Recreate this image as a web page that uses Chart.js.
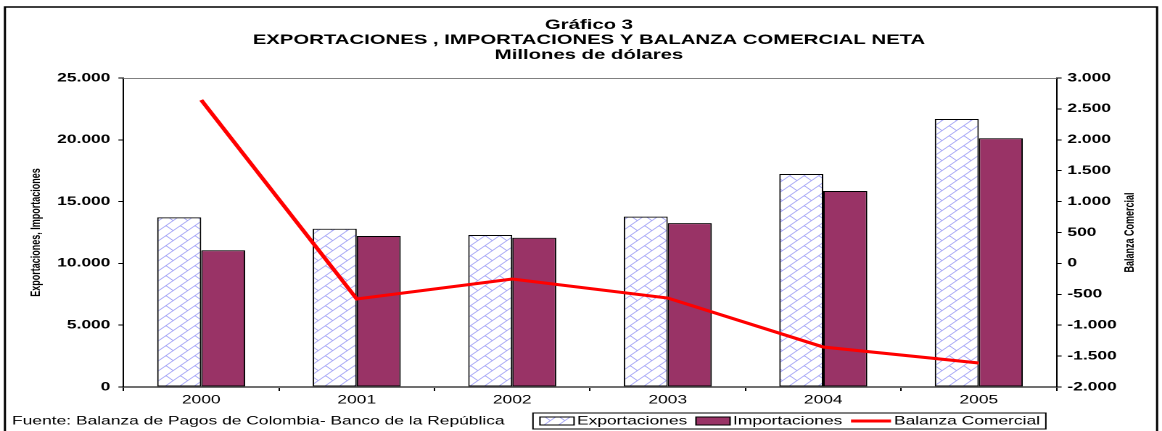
<!DOCTYPE html>
<html><head><meta charset="utf-8">
<script src="https://cdn.jsdelivr.net/npm/chart.js@4.4.1/dist/chart.umd.min.js"></script>
<style>
html,body{margin:0;padding:0;background:#fff;overflow:hidden;}
#wrap{width:801px;height:431px;transform:scaleX(1.450687);transform-origin:0 0;}
</style></head><body>
<div id="wrap"><canvas id="c" width="801" height="431"></canvas></div>
<script>
const categories = ['2000','2001','2002','2003','2004','2005'];
const exportaciones = [13720, 12800, 12300, 13780, 17230, 21680];
const importaciones = [11060, 12220, 12080, 13260, 15860, 20130];
const balanza = [2644, -576, -252, -560, -1353, -1612];
const leftTicks = [0, 5000, 10000, 15000, 20000, 25000];
const rightTicks = [-2000, -1500, -1000, -500, 0, 500, 1000, 1500, 2000, 2500, 3000];
const titleLines = ['Gráfico 3', 'EXPORTACIONES , IMPORTACIONES Y BALANZA COMERCIAL NETA', 'Millones de dólares'];
const leftAxisTitle = 'Exportaciones, Importaciones';
const rightAxisTitle = 'Balanza Comercial';
const sourceText = 'Fuente: Balanza de Pagos de Colombia- Banco de la República';
const seriesNames = ['Exportaciones', 'Importaciones', 'Balanza Comercial'];

const FONT = "'Liberation Sans', Arial, sans-serif";
Chart.defaults.font.family = FONT;
Chart.defaults.color = '#000';

function fmt(v){
  const s = String(Math.abs(v)).replace(/\B(?=(\d{3})+(?!\d))/g, '.');
  return (v < 0 ? '-' : '') + s;
}

const canvas = document.getElementById('c');
const ctx = canvas.getContext('2d');

function makeHatch(){
  const c = document.createElement('canvas');
  c.width = 20; c.height = 20;
  const g = c.getContext('2d');
  g.fillStyle = '#fff'; g.fillRect(0, 0, 20, 20);
  g.scale(2.5, 2.5);
  g.strokeStyle = '#a4a4f6'; g.lineWidth = 0.6;
  g.beginPath();
  for (let k = 0; k <= 2; k++){ g.moveTo(-2, 8*k + 2); g.lineTo(10, 8*k - 10); }
  for (const dx of [-8, 0, 8]) for (const dy of [-8, 0, 8]){
    g.moveTo(3.5 + dx, 4.5 + dy); g.lineTo(7.5 + dx, 8.5 + dy);
  }
  g.stroke();
  const p = ctx.createPattern(c, 'repeat');
  if (p.setTransform) p.setTransform(new DOMMatrix().scale(0.5));
  return p;
}
const hatch = makeHatch();
const IMP_COLOR = '#993366';
const LINE_COLOR = '#ff0000';

const decor = {
  id: 'decor',
  beforeDraw(ch){
    const c = ch.ctx; c.save(); c.fillStyle = '#fff'; c.fillRect(0, 0, ch.width, ch.height); c.restore();
  },
  afterDraw(ch){
    const c = ch.ctx, a = ch.chartArea;
    c.save();
    c.strokeStyle = '#000'; c.lineWidth = 1.5;
    c.beginPath(); c.moveTo(3.4, 431); c.lineTo(3.4, 7); c.lineTo(797.6, 7); c.lineTo(797.6, 431); c.stroke();
    c.strokeStyle = '#808080'; c.lineWidth = 1;
    c.beginPath(); c.moveTo(a.left, a.top + 0.5); c.lineTo(a.right, a.top + 0.5); c.stroke();
    c.fillStyle = '#000'; c.font = 'bold 9px ' + FONT; c.textAlign = 'center'; c.textBaseline = 'middle';
    const cy = (a.top + a.bottom) / 2;
    c.save(); c.translate(24.8, cy); c.rotate(-Math.PI/2); c.fillText(leftAxisTitle, 0, 0); c.restore();
    c.save(); c.translate(779, cy); c.rotate(-Math.PI/2); c.fillText(rightAxisTitle, 0, 0); c.restore();
    c.font = '12px ' + FONT; c.textAlign = 'left'; c.textBaseline = 'middle';
    c.fillText(sourceText, 8.3, 421);
    const ds = ch.data.datasets;
    const L = 367.4;
    let cx = L + 4.8;
    ds.forEach((d) => {
      if (d.type === 'line'){
        c.strokeStyle = d.borderColor; c.lineWidth = 3;
        c.beginPath(); c.moveTo(cx, 421); c.lineTo(cx + 27.6, 421); c.stroke();
        cx += 27.6 + 2;
      } else {
        c.fillStyle = d.backgroundColor; c.fillRect(cx, 417, 23.5, 8);
        c.strokeStyle = '#000'; c.lineWidth = 1; c.strokeRect(cx, 417, 23.5, 8);
        cx += 23.5 + 2;
      }
      c.fillStyle = '#000';
      c.fillText(d.label, cx, 421);
      cx += c.measureText(d.label).width + 6;
    });
    c.strokeStyle = '#000'; c.lineWidth = 1;
    c.strokeRect(L, 413, cx - 6 + 4 - L, 16);
    c.restore();
  }
};

new Chart(ctx, {
  type: 'bar',
  data: {
    labels: categories,
    datasets: [
      { label: seriesNames[0], data: exportaciones, backgroundColor: hatch, borderColor: '#000', borderWidth: 1,
        borderSkipped: false, yAxisID: 'y', order: 1, barPercentage: 1, categoryPercentage: 0.566 },
      { label: seriesNames[1], data: importaciones, backgroundColor: IMP_COLOR, borderColor: '#000', borderWidth: 1,
        borderSkipped: false, yAxisID: 'y', order: 1, barPercentage: 1, categoryPercentage: 0.566 },
      { type: 'line', label: seriesNames[2], data: balanza, yAxisID: 'y1', borderColor: LINE_COLOR, backgroundColor: LINE_COLOR,
        borderWidth: 3, pointRadius: 0, pointHoverRadius: 0, tension: 0, fill: false, order: 0 }
    ]
  },
  options: {
    responsive: false,
    animation: false,
    devicePixelRatio: 2,
    layout: { padding: { left: 11, right: 0, top: 0, bottom: 0 } },
    plugins: {
      legend: { display: false },
      tooltip: { enabled: false },
      title: {
        display: true, text: titleLines, color: '#000',
        font: { family: FONT, size: 14, weight: 'bold', lineHeight: '15px' },
        padding: { top: 17.5, bottom: 15.5 }
      }
    },
    scales: {
      x: {
        grid: { offset: true, drawOnChartArea: false, drawTicks: true, tickLength: 4, color: '#000', lineWidth: 1 },
        border: { display: true, color: '#707070', width: 2 },
        ticks: { font: { family: FONT, size: 12 }, color: '#000', padding: 2, maxRotation: 0, autoSkip: false },
        afterFit(s){ s.height = 44; }
      },
      y: {
        position: 'left', min: 0, max: 25000,
        afterBuildTicks(s){ s.ticks = leftTicks.map(v => ({ value: v })); },
        ticks: { callback: (v) => fmt(v), font: { family: FONT, size: 12, weight: 'bold' }, color: '#000', padding: 5.5 },
        grid: { drawOnChartArea: false, drawTicks: true, tickLength: 3.5, color: '#000', lineWidth: 1 },
        border: { display: true, color: '#000', width: 1 },
        afterFit(s){ s.width = 74.1; }
      },
      y1: {
        position: 'right', min: -2000, max: 3000,
        afterBuildTicks(s){ s.ticks = rightTicks.map(v => ({ value: v })); },
        ticks: { callback: (v) => fmt(v), font: { family: FONT, size: 12, weight: 'bold' }, color: '#000', padding: 4 },
        grid: { drawOnChartArea: false, drawTicks: true, tickLength: 3.5, color: '#000', lineWidth: 1 },
        border: { display: true, color: '#000', width: 1 },
        afterFit(s){ s.width = 72.7; }
      }
    }
  },
  plugins: [decor]
});
</script>
</body></html>
